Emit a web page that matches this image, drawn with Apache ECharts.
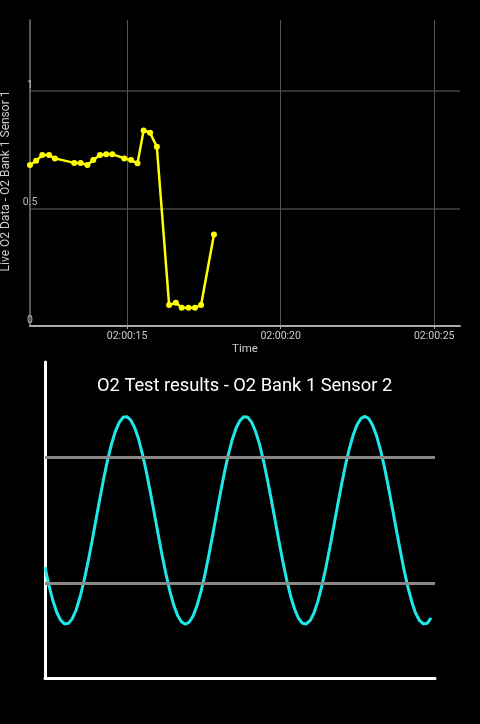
<!DOCTYPE html>
<html>
<head>
<meta charset="utf-8">
<script src="https://cdn.jsdelivr.net/npm/echarts@6/dist/echarts.min.js"></script>
<style>
html,body{margin:0;padding:0;background:#000;}
#c{width:480px;height:724px;}
</style>
</head>
<body>
<div id="c"></div>
<script>
// ---- Top chart: Live O2 Data (seconds after 02:00:00, value)
var liveTimes = [11.84,12.04,12.24,12.46,12.65,13.28,13.49,13.71,13.90,14.12,14.32,14.52,14.91,15.13,15.34,15.54,15.75,15.97,16.37,16.59,16.78,17.00,17.21,17.41,17.83];
var liveValues = [0.684,0.702,0.726,0.726,0.712,0.693,0.693,0.684,0.705,0.726,0.730,0.730,0.712,0.705,0.691,0.831,0.821,0.761,0.089,0.099,0.078,0.078,0.078,0.089,0.389];
var timeTicks = [15,20,25];
var valueTicks = [0,0.5,1];

// ---- Bottom chart: O2 test results (one value per sample, sample index = position)
var testValues = [
  0.351,0.294,0.246,0.208,0.183,0.171,0.173,0.188,0.216,0.257,
  0.307,0.365,0.429,0.496,0.563,0.628,0.687,0.738,0.779,0.808,
  0.825,0.827,0.816,0.792,0.756,0.708,0.652,0.589,0.523,0.456,
  0.390,0.330,0.276,0.231,0.198,0.177,0.170,0.177,0.197,0.230,
  0.274,0.327,0.388,0.453,0.520,0.587,0.650,0.706,0.754,0.791,
  0.815,0.827,0.825,0.809,0.780,0.740,0.689,0.630,0.566,0.499,
  0.432,0.368,0.309,0.258,0.218,0.189,0.173,0.171,0.182,0.207,
  0.244,0.292,0.348,0.411,0.477,0.544,0.610,0.671,0.724,0.768,
  0.801,0.821,0.828,0.821,0.800,0.767,0.723,0.669,0.608,0.542,
  0.475,0.409,0.346,0.290,0.243,0.206,0.182,0.171,0.173,0.190
];
var thresholds = [0.3,0.7];

function pad(n){ return (n<10?'0':'')+n; }

var chart = echarts.init(document.getElementById('c'), null, {renderer:'canvas'});
chart.setOption({
  backgroundColor:'#000',
  animation:false,
  textStyle:{fontFamily:'Roboto'},
  title:{
    text:'O2 Test results - O2 Bank 1 Sensor 2',
    left:92, top:372,
    textStyle:{color:'#fff', fontSize:18.3, fontWeight:'normal', fontFamily:'Roboto'}
  },
  grid:[
    {left:30, top:20, width:430, height:306, outerBoundsMode:'none', containLabel:false},
    {left:45, top:362, width:390, height:316, outerBoundsMode:'none', containLabel:false}
  ],
  xAxis:[
    {
      gridIndex:0, type:'value', min:11.84, max:25.84,
      name:'Time', nameLocation:'middle', nameGap:16,
      nameTextStyle:{color:'#ccc', fontSize:11.5},
      axisLine:{show:true, lineStyle:{color:'#aaa', width:2}},
      axisTick:{show:true, length:3, customValues:timeTicks, lineStyle:{color:'#aaa'}},
      axisLabel:{customValues:timeTicks, color:'#ccc', fontSize:10.5, margin:5,
        formatter:function(v){ return '02:00:' + pad(Math.round(v)); }},
      splitLine:{show:true, lineStyle:{color:'#555', width:1}}
    },
    {
      gridIndex:1, type:'value', min:0, max:100,
      axisLine:{show:true, onZero:false, lineStyle:{color:'#fff', width:3}},
      axisTick:{show:false}, axisLabel:{show:false}, splitLine:{show:false}
    }
  ],
  yAxis:[
    {
      gridIndex:0, type:'value', min:0, max:1.3,
      name:'Live O2 Data - O2 Bank 1 Sensor 1', nameLocation:'middle', nameGap:16, nameRotate:90,
      nameTextStyle:{color:'#ccc', fontSize:12, padding:[0,16,0,0]},
      axisLine:{show:true, lineStyle:{color:'#777', width:1.5}},
      axisTick:{show:false, customValues:valueTicks},
      axisLabel:{customValues:valueTicks, color:'#bbb', fontSize:10.5, margin:0, align:'center', verticalAlign:'bottom'},
      splitLine:{show:true, lineStyle:{color:'#444', width:1.5}}
    },
    {
      gridIndex:1, type:'value', min:0, max:1,
      axisLine:{show:true, onZero:false, lineStyle:{color:'#fff', width:3}},
      axisTick:{show:false}, axisLabel:{show:false}, splitLine:{show:false}
    }
  ],
  series:[
    {
      type:'line', xAxisIndex:0, yAxisIndex:0,
      data: liveTimes.map(function(t,i){ return [t, liveValues[i]]; }),
      symbol:'circle', symbolSize:6, showSymbol:true,
      lineStyle:{color:'#ffff00', width:2.5},
      itemStyle:{color:'#ffff00'}
    },
    {
      type:'line', xAxisIndex:1, yAxisIndex:1,
      data: testValues.map(function(v,i){ return [i, v]; }),
      showSymbol:false,
      lineStyle:{color:'#1ee8e8', width:3},
      markLine:{
        silent:true, symbol:'none', label:{show:false},
        lineStyle:{color:'#888', width:3, type:'solid'},
        data: thresholds.map(function(v){ return {yAxis:v}; })
      }
    }
  ]
});
</script>
</body>
</html>
